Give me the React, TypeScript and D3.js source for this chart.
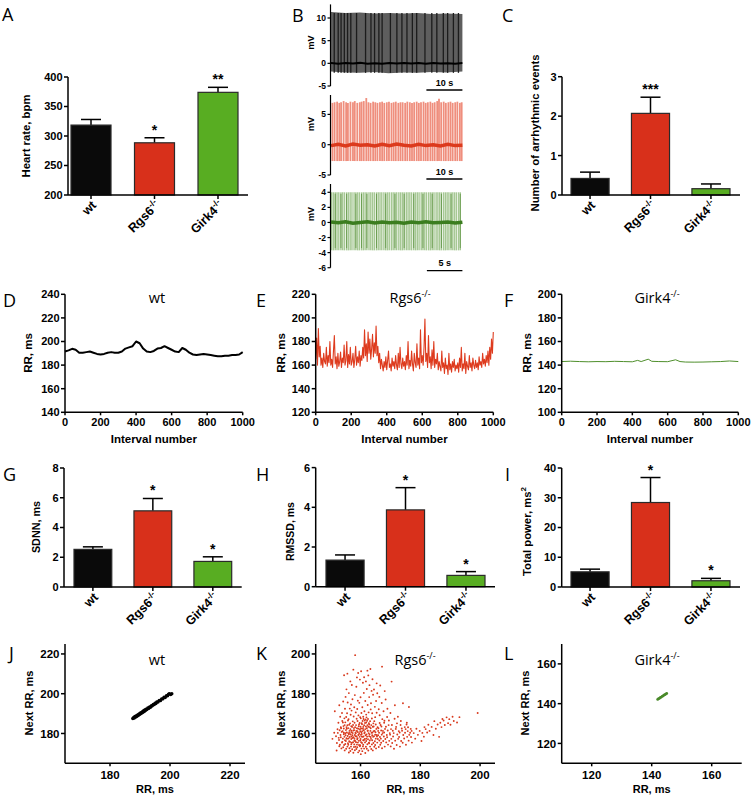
import React from 'react';
import * as d3 from 'd3';

const SANS = '"Liberation Sans", Arial, Helvetica, sans-serif';
const LETTER = '"Open Sans", "Liberation Sans", sans-serif';

// ---------------- data ----------------
const groups = ['wt', 'Rgs6', 'Girk4'];
const groupSup = ['', '-/-', '-/-'];
const groupColors = ['#0a0a0a', '#d8301b', '#58ad22'];

const heartRate = [318.5, 288.5, 374];
const heartRateSem = [9.5, 8.5, 8.5];
const heartRateStars = ['', '*', '**'];
const heartRateTicks = [200, 250, 300, 350, 400];

const arrhythmicEvents = [0.42, 2.07, 0.16];
const arrhythmicSem = [0.16, 0.41, 0.12];
const arrhythmicStars = ['', '***', ''];
const arrhythmicTicks = [0, 1, 2, 3];

const sdnn = [2.53, 5.12, 1.72];
const sdnnSem = [0.17, 0.83, 0.31];
const sdnnStars = ['', '*', '*'];
const sdnnTicks = [0, 2, 4, 6, 8];

const rmssd = [1.34, 3.87, 0.57];
const rmssdSem = [0.26, 1.12, 0.19];
const rmssdStars = ['', '*', '*'];
const rmssdTicks = [0, 2, 4, 6];

const totalPower = [5.1, 28.4, 2.1];
const totalPowerSem = [0.9, 8.4, 0.8];
const totalPowerStars = ['', '*', '*'];
const totalPowerTicks = [0, 10, 20, 30, 40];

const intervalTicks = [0, 200, 400, 600, 800, 1000];

// RR tachograms (wt sampled every 20 intervals, Rgs6 every 5, Girk4 irregular)
const wtRR = [191.5, 192.5, 193.8, 193, 190.5, 190.5, 191, 191.5, 190.5, 189.5, 189, 189.5, 190.5, 191, 190.5, 190.5,
  191.5, 194, 195, 196, 200, 198.5, 194, 191.5, 191, 192, 194, 194.5, 196, 194.5, 193, 191.5, 191, 194.5, 193, 190.5,
  189, 188.5, 189, 189.5, 189, 188.5, 188, 187.5, 187.5, 188, 188, 188.5, 188.5, 189, 191];
const wtRRStep = 20;

const rgsRR = [165, 183, 160, 191, 167, 176,
  160, 166, 158, 170, 163, 161, 175, 159, 168, 162, 180, 160, 165, 158, 172,
  185, 161, 167, 157, 170, 159, 163, 171, 158, 166, 162, 177, 160, 164, 180, 158, 169, 161, 175, 160,
  163, 170, 158, 165, 176, 160, 167, 162, 172, 159, 168, 164,
  175, 166, 190, 168, 178, 163, 188, 170, 182, 165, 174, 186, 167, 179, 170, 193, 168, 176,
  162, 170, 157, 165, 160, 155, 163, 158, 167, 156,
  164, 172, 158, 161, 155, 166, 159, 163, 157, 168, 160, 156, 170, 158, 175, 161, 157, 166, 159, 163,
  156, 168, 160, 180, 157, 164, 159, 172, 161, 155, 170, 162, 158, 178, 160, 166, 157, 190, 162, 168,
  160, 175, 199, 163, 170, 158, 185, 162, 167, 157, 173, 160, 180, 158, 165, 161, 170, 156, 163, 159,
  155, 172, 158, 162, 153, 166, 157, 160, 152, 170, 156, 161, 154, 163, 158, 165, 155, 160, 157, 162,
  154, 166, 158, 175, 155, 161, 157, 170, 153, 163, 159, 156, 168, 158, 162, 155, 166, 160, 157, 164,
  158, 162, 156, 167, 160, 163, 158, 170, 161, 165, 159, 168, 162, 172, 160, 175, 165, 182, 170, 188];
const rgsRRStep = 5;

const girkIntervals = [0, 50, 100, 150, 200, 250, 300, 350, 400, 430, 450, 490, 510, 550, 600, 645, 670, 700, 750, 800, 850, 900, 950, 1000];
const girkRR = [143, 143.3, 143, 142.8, 143, 142.9, 143.2, 143, 142.8, 144, 143, 145, 143.2, 143, 142.9, 144.5, 143, 142.6, 142.5, 142.6, 142.8, 143, 143.5, 143];

// Poincaré plots: [RR, next RR]
const wtPoincare: [number, number][] = [[187.6, 187.5], [187.9, 188.1], [188.1, 187.8], [188.3, 188.5], [188.6, 188.3], [188.8, 188.9],
  [189, 188.7], [189.2, 189.3], [189.4, 189.1], [189.6, 189.7], [189.8, 189.5], [190, 190.2], [190.2, 189.9], [190.4, 190.5],
  [190.6, 190.3], [190.8, 191], [191, 190.7], [191.2, 191.4], [191.4, 191.1], [191.6, 191.8], [191.8, 191.5], [192, 192.2],
  [192.3, 192], [192.6, 192.8], [192.9, 192.6], [193.2, 193.4], [193.5, 193.2], [193.8, 194], [194.1, 193.9], [194.4, 194.6],
  [194.7, 194.5], [195, 195.2], [195.3, 195.1], [195.6, 195.8], [196, 195.8], [196.4, 196.6], [196.8, 196.5], [197.2, 197.4],
  [197.6, 197.4], [198, 198.2], [198.4, 198.1], [198.8, 199], [199.2, 199], [199.5, 199.8], [199.8, 200], [200.2, 199.6], [200.6, 200]];

const rgsPoincare: [number, number][] = [
  [150.6, 157.3], [151.2, 160.4], [151.4, 171.2],
  [152.1, 155.2], [151.8, 158.6], [152.3, 162.1], [152.0, 151.4],
  [152.7, 157.8], [152.4, 160.3], [152.6, 165.4], [152.9, 153.6],
  [153.1, 154.3], [152.8, 156.7], [153.3, 159.2], [153.0, 161.6], [153.4, 163.1], [153.2, 168.4], [152.9, 174.2],
  [153.6, 152.5], [153.8, 155.4], [153.4, 158.1], [153.7, 160.8], [153.5, 162.6], [153.9, 166.3],
  [154.2, 153.1], [153.9, 155.8], [154.1, 157.4], [154.4, 159.6], [154.0, 161.2], [154.3, 163.7], [154.1, 165.5], [153.8, 170.3], [154.2, 176.1], [154.4, 160.4],
  [154.7, 151.5], [154.5, 154.2], [154.8, 156.6], [154.6, 158.3], [154.9, 160.1], [154.4, 162.5], [154.7, 164.2], [154.6, 167.6], [154.8, 172.4], [154.5, 189.3],
  [155.2, 152.3], [154.9, 154.7], [155.1, 156.2], [155.3, 157.6], [155.0, 159.1], [155.4, 160.5], [155.1, 161.7], [155.3, 163.2], [154.9, 165.6], [155.2, 168.3], [155.0, 178.4], [155.3, 182.2],
  [155.6, 153.4], [155.8, 155.1], [155.5, 157.3], [155.7, 158.7], [155.9, 160.2], [155.4, 162.4], [155.6, 164.1], [155.8, 166.5], [155.5, 170.2], [155.7, 175.6], [155.6, 190.1],
  [156.1, 150.4], [156.3, 152.6], [155.9, 154.3], [156.2, 156.1], [156.0, 157.5], [156.4, 158.2], [156.1, 159.6], [156.3, 161.3], [155.9, 162.7], [156.2, 164.4], [156.0, 167.2], [156.4, 172.5], [156.1, 180.3],
  [156.6, 151.2], [156.8, 153.4], [156.5, 155.7], [156.9, 157.2], [156.7, 159.5], [156.4, 160.3], [156.6, 162.2], [156.9, 163.6], [156.5, 165.1], [156.7, 169.4], [156.8, 174.6], [156.6, 186.2],
  [157.2, 152.1], [156.9, 154.6], [157.1, 155.3], [157.4, 157.7], [157.0, 158.4], [157.3, 159.1], [157.1, 160.6], [156.9, 161.4], [157.2, 163.3], [157.4, 166.1], [157.0, 171.5], [157.3, 177.2], [157.1, 184.4],
  [157.6, 150.3], [157.8, 153.2], [157.5, 155.6], [157.9, 156.4], [157.7, 158.1], [157.4, 160.2], [157.6, 161.5], [157.8, 162.7], [157.5, 164.3], [157.7, 168.5], [157.9, 173.2], [157.6, 192.1],
  [158.1, 151.6], [158.3, 153.3], [157.9, 154.5], [158.2, 156.2], [158.0, 157.3], [158.4, 158.6], [158.1, 159.2], [158.3, 160.4], [157.9, 161.7], [158.2, 163.1], [158.0, 165.4], [158.4, 170.6], [158.1, 179.3], [158.2, 199.4],
  [158.6, 152.2], [158.8, 154.4], [158.5, 155.6], [158.9, 157.1], [158.7, 158.5], [158.4, 160.1], [158.6, 161.3], [158.8, 162.6], [158.5, 164.2], [158.7, 167.4], [158.9, 172.3], [158.6, 183.5], [158.8, 188.2],
  [159.2, 150.5], [158.9, 153.1], [159.1, 155.4], [159.4, 156.3], [159.0, 157.6], [159.3, 159.2], [159.1, 160.7], [158.9, 161.2], [159.2, 162.4], [159.4, 163.6], [159.0, 166.3], [159.3, 169.1], [159.1, 176.5], [159.2, 190.4],
  [159.6, 151.3], [159.8, 153.6], [159.5, 154.2], [159.9, 156.5], [159.7, 158.3], [159.4, 159.5], [159.6, 160.2], [159.8, 162.1], [159.5, 164.5], [159.7, 165.3], [159.9, 168.2], [159.6, 175.4], [159.8, 187.1],
  [160.1, 149.6], [160.3, 152.4], [159.9, 154.1], [160.2, 155.6], [160.0, 157.2], [160.4, 158.5], [160.1, 159.3], [160.3, 160.6], [159.9, 161.1], [160.2, 162.5], [160.0, 163.4], [160.4, 165.2], [160.1, 167.6], [160.3, 170.3], [160.0, 178.2], [160.2, 191.3],
  [160.6, 151.1], [160.8, 153.5], [160.5, 155.2], [160.9, 156.6], [160.7, 158.3], [160.4, 159.7], [160.6, 161.2], [160.8, 162.4], [160.5, 164.6], [160.7, 166.3], [160.9, 168.4], [160.6, 173.2], [160.8, 185.5],
  [161.2, 152.4], [160.9, 154.3], [161.1, 156.6], [161.4, 157.2], [161.0, 158.5], [161.3, 160.1], [161.1, 161.6], [160.9, 163.3], [161.2, 164.1], [161.4, 166.5], [161.0, 167.3], [161.3, 171.2], [161.1, 180.4], [161.2, 188.3],
  [161.6, 150.2], [161.8, 153.3], [161.5, 155.5], [161.9, 157.4], [161.7, 159.1], [161.4, 160.6], [161.6, 162.2], [161.8, 163.5], [161.5, 165.3], [161.7, 167.1], [161.9, 169.5], [161.6, 176.3], [161.8, 186.2],
  [162.1, 152.3], [162.3, 154.6], [161.9, 156.2], [162.2, 158.4], [162.0, 159.5], [162.4, 161.3], [162.1, 162.6], [162.3, 164.2], [161.9, 165.5], [162.2, 166.4], [162.0, 168.1], [162.4, 174.3], [162.1, 182.4], [162.3, 191.6],
  [162.6, 151.4], [162.8, 155.3], [162.5, 157.1], [162.9, 158.6], [162.7, 160.2], [162.4, 161.5], [162.6, 163.4], [162.8, 165.2], [162.5, 167.3], [162.7, 170.6], [162.9, 178.3], [162.6, 189.2],
  [163.2, 153.4], [162.9, 155.1], [163.1, 156.5], [163.4, 158.2], [163.0, 159.6], [163.3, 161.3], [163.1, 163.2], [162.9, 164.5], [163.2, 166.2], [163.4, 172.1], [163.0, 184.3], [163.3, 192.4],
  [163.6, 152.2], [163.8, 154.5], [163.5, 157.3], [163.9, 159.1], [163.7, 160.4], [163.4, 162.6], [163.6, 164.2], [163.8, 167.5], [163.5, 175.2], [163.7, 181.4],
  [164.1, 151.5], [164.3, 155.2], [163.9, 156.6], [164.2, 158.3], [164.0, 160.5], [164.4, 161.2], [164.1, 163.4], [164.3, 165.1], [163.9, 170.2], [164.2, 179.5], [164.0, 187.3],
  [164.6, 153.3], [164.8, 156.1], [164.5, 158.6], [164.9, 159.4], [164.7, 161.3], [164.4, 163.5], [164.6, 166.2], [164.8, 173.4], [164.5, 182.1],
  [165.2, 152.5], [164.9, 154.2], [165.1, 157.4], [165.4, 159.2], [165.0, 160.6], [165.3, 162.3], [165.1, 164.5], [164.9, 168.2], [165.2, 176.3], [165.4, 185.2],
  [165.6, 155.4], [165.8, 157.2], [165.5, 158.5], [165.9, 161.3], [165.7, 163.1], [165.4, 170.4], [165.6, 180.2],
  [166.1, 153.2], [166.3, 156.5], [165.9, 159.1], [166.2, 160.4], [166.0, 162.6], [166.4, 165.3], [166.1, 172.2], [166.3, 178.4],
  [166.6, 154.3], [166.8, 157.4], [166.5, 158.2], [166.9, 161.5], [166.7, 164.3], [166.4, 169.2], [166.6, 184.1],
  [167.2, 152.6], [166.9, 155.3], [167.1, 159.4], [167.4, 160.2], [167.0, 163.5], [167.3, 167.2], [167.1, 175.3], [167.2, 193.6],
  [167.6, 156.2], [167.8, 158.5], [167.5, 161.3], [167.9, 165.4], [167.7, 171.2],
  [168.1, 153.4], [168.3, 157.2], [167.9, 160.5], [168.2, 162.3], [168.0, 166.4], [168.4, 177.1], [168.1, 181.3],
  [168.6, 155.5], [168.8, 159.2], [168.5, 163.4], [168.9, 168.3],
  [169.2, 154.4], [168.9, 158.1], [169.1, 161.5], [169.4, 164.2], [169.0, 172.4],
  [169.6, 156.3], [169.8, 160.2], [169.5, 166.5],
  [170.1, 153.5], [170.3, 157.3], [169.9, 159.4], [170.2, 162.2], [170.0, 170.3], [170.4, 186.1],
  [170.6, 155.2], [170.8, 161.4], [170.5, 164.3],
  [171.2, 152.3], [170.9, 158.5], [171.1, 160.2], [171.4, 167.4],
  [171.6, 156.4], [171.8, 162.3], [171.5, 174.2],
  [172.1, 154.2], [172.3, 159.5], [171.9, 163.3], [172.2, 165.1],
  [172.6, 157.3], [172.8, 161.2], [172.5, 168.4],
  [173.2, 153.4], [172.9, 158.2], [173.1, 160.5], [173.4, 164.3],
  [173.6, 156.2], [173.8, 162.5], [173.5, 166.3],
  [174.1, 155.3], [174.3, 159.2], [173.9, 161.4], [174.2, 175.2],
  [174.6, 157.5], [174.8, 163.2],
  [175.2, 154.3], [174.9, 160.4], [175.1, 162.2], [175.4, 164.5],
  [175.6, 158.3], [175.8, 161.2], [175.5, 165.4],
  [176.1, 156.4], [176.3, 159.3], [175.9, 163.1], [176.2, 173.3],
  [176.6, 160.4], [176.8, 162.3],
  [177.2, 155.4], [176.9, 158.2], [177.1, 161.3],
  [178.3, 157.4], [177.8, 160.2],
  [179.2, 159.3], [178.7, 162.4],
  [180.4, 156.2], [179.8, 161.3],
  [181.2, 158.4], [180.7, 160.3], [181.4, 163.2],
  [182.3, 160.5], [181.8, 162.2],
  [183.1, 161.3], [182.7, 164.4],
  [184.4, 159.2], [183.8, 163.3],
  [185.2, 162.4], [184.7, 166.2],
  [186.3, 158.3], [185.8, 164.5],
  [187.1, 163.2], [186.7, 165.4], [187.4, 167.3],
  [188.2, 164.3], [187.8, 166.5],
  [189.3, 165.2], [188.8, 168.1],
  [190.1, 164.4], [189.7, 167.2],
  [191.2, 166.3], [190.8, 168.4],
  [192.3, 165.5], [193.1, 168.2], [199.2, 170.3]];

const girkPoincare: [number, number][] = [[142, 142.1], [142.3, 142.5], [142.6, 142.7], [142.9, 143.1], [143.2, 143.3],
  [143.5, 143.7], [143.8, 143.9], [144.1, 144.3], [144.4, 144.5], [144.7, 144.8], [145, 145.1]];

// ECG traces (panel B): times of beats in seconds
const blackEnvTimes = [0, 4, 8, 12, 16, 20, 24, 28, 32, 36.5];
const blackEnvTop = [11.3, 11.1, 11.2, 11.0, 11.1, 11.0, 11.1, 10.9, 11.0, 10.9];
const blackEnvBottom = [-1.8, -2.0, -2.1, -1.9, -2.2, -2.0, -2.1, -1.9, -2.0, -1.8];
const blackDarkBeats = [0.9, 2.0, 2.8, 3.7, 4.6, 5.5, 7.1, 9.6, 11.1, 12.1, 13.3, 14.2, 16.5, 18.3, 19.7, 21.1, 22.6, 23.8,
  26.1, 28.0, 29.4, 31.2, 32.4, 34.0, 35.4];
const blackBaseline = [0.05, -0.1, 0.08, -0.05, 0.1, -0.08, 0.03, -0.1, 0.05, -0.05, 0.1, -0.03, 0.05, -0.1, 0.08, -0.05, 0.03, -0.08, 0.05];

const redBeats = [0.4, 1.0, 1.7, 2.3, 2.8, 3.5, 4.2, 4.7, 5.4, 6.1, 6.6, 7.3, 8.0, 8.5, 9.1, 9.8, 10.4, 11.0, 11.7, 12.3,
  12.9, 13.6, 14.2, 14.8, 15.5, 16.1, 16.8, 17.4, 18.0, 18.7, 19.3, 19.9, 20.6, 21.2, 21.9, 22.5, 23.1, 23.8, 24.4, 25.0,
  25.7, 26.3, 26.9, 27.6, 28.2, 28.8, 29.5, 30.0, 30.6, 31.3, 31.9, 32.6, 33.2, 33.8, 34.5, 35.1, 35.8, 36.3];
const redBeatTop = [6.9, 7.0, 7.1, 6.9, 7.0, 7.2, 7.0, 6.9, 7.1, 7.0, 7.2, 6.9, 7.0, 7.1, 7.2, 7.7, 7.0, 6.9, 7.1, 7.0,
  6.9, 7.0, 7.1, 6.9, 7.0, 7.1, 6.9, 7.0, 7.1, 6.9, 7.0, 7.0, 6.9, 7.1, 7.0, 6.9, 7.0, 7.1, 6.9, 7.0,
  7.1, 6.9, 7.0, 7.1, 6.9, 7.0, 7.2, 7.6, 7.0, 7.1, 6.9, 7.0, 7.1, 6.9, 7.0, 7.1, 6.9, 7.0];
const redBeatBottom = -2.7;
const redBaseline = [-0.15, 0.05, -0.2, 0.1, -0.1, 0.0, -0.2, 0.05, -0.15, 0.1, -0.1, -0.2, 0.05, -0.15, 0.0, -0.2, 0.05, -0.15, -0.1];

const greenBeats = [0.1, 0.35, 0.6, 0.85, 1.1, 1.4, 1.65, 1.9, 2.2, 2.45, 2.7, 2.95, 3.25, 3.5, 3.75, 4.0, 4.3, 4.55, 4.8,
  5.05, 5.35, 5.6, 5.85, 6.1, 6.4, 6.65, 6.9, 7.15, 7.45, 7.7, 7.95, 8.2, 8.5, 8.75, 9.0, 9.25, 9.55, 9.8, 10.05, 10.3,
  10.6, 10.85, 11.1, 11.35, 11.65, 11.9, 12.15, 12.4, 12.7, 12.95, 13.2, 13.45, 13.75, 14.0, 14.25, 14.5, 14.8, 15.05,
  15.3, 15.55, 15.85, 16.1, 16.35, 16.6, 16.9, 17.15, 17.4, 17.65, 17.95, 18.2];
const greenDarkBeats = [0.6, 1.4, 2.2, 3.5, 4.3, 5.05, 6.4, 7.7, 9.0, 10.3, 11.65, 12.95, 14.25, 15.55, 16.9, 18.2];
const greenBeatTop = 4.0;
const greenBeatBottom = -3.7;
const greenBaseline = [0.05, -0.05, 0.1, -0.1, 0.0, 0.08, -0.08, 0.05, -0.05, 0.03, -0.1, 0.05, -0.03, 0.08, -0.05, 0.0, 0.05, -0.08, 0.03];

// ---------------- components ----------------
type Scale = d3.ScaleLinear<number, number>;

function YAxis({ x, scale, ticks, size = 11, tickLen = 4, sw = 1.5 }: { x: number; scale: Scale; ticks: number[]; size?: number; tickLen?: number; sw?: number }) {
  const [r0, r1] = scale.range();
  return (
    <g>
      <line x1={x} x2={x} y1={Math.min(r0, r1)} y2={Math.max(r0, r1)} stroke="#000" strokeWidth={sw} />
      {ticks.map((t) => (
        <g key={t}>
          <line x1={x - tickLen} x2={x} y1={scale(t)} y2={scale(t)} stroke="#000" strokeWidth={sw} />
          <text x={x - tickLen - 1.5} y={scale(t)} dy="0.36em" textAnchor="end" fontSize={size} fontWeight="bold" fontFamily={SANS}>{t}</text>
        </g>
      ))}
    </g>
  );
}

function XAxis({ y, scale, ticks, size = 11, labelDy = 14 }: { y: number; scale: Scale; ticks: number[]; size?: number; labelDy?: number }) {
  const [r0, r1] = scale.range();
  return (
    <g>
      <line x1={r0} x2={r1} y1={y} y2={y} stroke="#000" strokeWidth={1.5} />
      {ticks.map((t) => (
        <g key={t}>
          <line x1={scale(t)} x2={scale(t)} y1={y} y2={y + 3} stroke="#000" strokeWidth={1.5} />
          <text x={scale(t)} y={y + labelDy} textAnchor="middle" fontSize={size} fontWeight="bold" fontFamily={SANS}>{t}</text>
        </g>
      ))}
    </g>
  );
}

function YLabel({ x, y, size, children }: { x: number; y: number; size: number; children: React.ReactNode }) {
  return (
    <text transform={`translate(${x},${y}) rotate(-90)`} textAnchor="middle" fontSize={size} fontWeight="bold" fontFamily={SANS}>{children}</text>
  );
}

function GroupName({ i, supSize, dy }: { i: number; supSize: number; dy: number }) {
  return (
    <>
      {groups[i]}
      {groupSup[i] ? <tspan dy={dy} fontSize={supSize}>{groupSup[i]}</tspan> : null}
    </>
  );
}

function Title({ x, y, i }: { x: number; y: number; i: number }) {
  return (
    <text x={x} y={y} textAnchor="middle" fontSize={14.5} fontFamily={LETTER}>
      <GroupName i={i} supSize={9} dy={-6} />
    </text>
  );
}

function BarPanel(p: {
  ax: number; right: number; yTop: number; yBot: number; bandL: number; bandR: number; domain: [number, number];
  ticks: number[]; values: number[]; sems: number[]; stars: string[]; label: React.ReactNode; labelX: number; labelY: number; labelSize: number;
}) {
  const y = d3.scaleLinear().domain(p.domain).range([p.yBot, p.yTop]);
  const xb = d3.scaleBand().domain(groups).range([p.bandL, p.bandR]).paddingInner(0.37).paddingOuter(0);
  const bw = xb.bandwidth();
  return (
    <g>
      {groups.map((g, i) => {
        const cx = (xb(g) as number) + bw / 2;
        const top = y(p.values[i]);
        const errTop = y(p.values[i] + p.sems[i]);
        return (
          <g key={g}>
            <line x1={cx} x2={cx} y1={top} y2={errTop} stroke="#000" strokeWidth={1.5} />
            <line x1={cx - 10} x2={cx + 10} y1={errTop} y2={errTop} stroke="#000" strokeWidth={1.5} />
            <rect x={xb(g)} y={top} width={bw} height={p.yBot - top} fill={groupColors[i]} stroke="#2a2a2a" strokeWidth={1.2} />
            {p.stars[i] ? (
              <text x={cx} y={errTop - 3} textAnchor="middle" fontSize={14} fontWeight="bold" fontFamily={SANS}>{p.stars[i]}</text>
            ) : null}
            <line x1={cx} x2={cx} y1={p.yBot} y2={p.yBot + 4} stroke="#000" strokeWidth={1.5} />
            <text transform={`translate(${cx + 6},${p.yBot + 11}) rotate(-45)`} textAnchor="end" fontSize={12.5} fontWeight="bold" fontFamily={SANS}>
              <GroupName i={i} supSize={8.5} dy={-5} />
            </text>
          </g>
        );
      })}
      <line x1={p.ax} x2={p.right} y1={p.yBot} y2={p.yBot} stroke="#000" strokeWidth={1.5} />
      <YAxis x={p.ax} scale={y} ticks={p.ticks} />
      <YLabel x={p.labelX} y={p.labelY} size={p.labelSize}>{p.label}</YLabel>
    </g>
  );
}

function LinePanel(p: {
  ax: number; right: number; yDomain: [number, number]; yTicks: number[]; step?: number; xs?: number[]; values: number[];
  color: string; width: number; labelX: number; title: number; titleX: number;
}) {
  const yTop = 294.3, yBot = 412.3;
  const x = d3.scaleLinear().domain([0, 1000]).range([p.ax, p.right]);
  const y = d3.scaleLinear().domain(p.yDomain).range([yBot, yTop]);
  const pts: [number, number][] = p.values.map((v, i) => [p.xs ? p.xs[i] : i * (p.step as number), v]);
  const path = d3.line<[number, number]>().x((d) => x(d[0])).y((d) => y(d[1]))(pts) as string;
  return (
    <g>
      <path d={path} fill="none" stroke={p.color} strokeWidth={p.width} strokeLinejoin="round" />
      <XAxis y={yBot} scale={x} ticks={intervalTicks} labelDy={13.5} />
      <YAxis x={p.ax} scale={y} ticks={p.yTicks} />
      <text x={(p.ax + p.right) / 2} y={443} textAnchor="middle" fontSize={11.5} fontWeight="bold" fontFamily={SANS}>Interval number</text>
      <YLabel x={p.labelX} y={353} size={11.5}>RR, ms</YLabel>
      <Title x={p.titleX} y={303} i={p.title} />
    </g>
  );
}

function ScatterPanel(p: {
  ax: number; right: number; domain: [number, number]; ticks: number[]; points: [number, number][]; color: string; r: number;
  labelX: number; title: number; titleX: number;
}) {
  const yTop = 644, yBot = 763.3;
  const x = d3.scaleLinear().domain(p.domain).range([p.ax, p.right]);
  const y = d3.scaleLinear().domain(p.domain).range([yBot, yTop]);
  return (
    <g>
      {p.points.map((d, i) => (
        <circle key={i} cx={x(d[0])} cy={y(d[1])} r={p.r} fill={p.color} />
      ))}
      <XAxis y={yBot} scale={x} ticks={p.ticks} labelDy={16} size={11.5} />
      <YAxis x={p.ax} scale={y} ticks={p.ticks} size={11.5} />
      <text x={(p.ax + p.right) / 2} y={793} textAnchor="middle" fontSize={11} fontWeight="bold" fontFamily={SANS}>RR, ms</text>
      <YLabel x={p.labelX} y={703} size={11}>Next RR, ms</YLabel>
      <Title x={p.titleX} y={665} i={p.title} />
    </g>
  );
}

function EcgAxis({ y, ticks, labelY }: { y: Scale; ticks: number[]; labelY: number }) {
  return (
    <g>
      <YAxis x={330.5} scale={y} ticks={ticks} size={8.5} tickLen={3} sw={1.2} />
      <text transform={`translate(314,${labelY}) rotate(-90)`} textAnchor="middle" fontSize={9} fontWeight="bold" fontFamily={SANS}>mV</text>
    </g>
  );
}

function ScaleBar({ x, yLine, seconds }: { x: Scale; yLine: number; seconds: number }) {
  const d = x.domain();
  const x1 = x(d[1] - seconds), x2 = x(d[1]);
  return (
    <g>
      <line x1={x1} x2={x2} y1={yLine} y2={yLine} stroke="#000" strokeWidth={1.3} />
      <text x={(x1 + x2) / 2} y={yLine - 4.3} textAnchor="middle" fontSize={9} fontWeight="bold" fontFamily={SANS}>{`${seconds} s`}</text>
    </g>
  );
}

function EcgPanel() {
  const x1 = d3.scaleLinear().domain([0, 36.5]).range([331, 462.4]);
  const x3 = d3.scaleLinear().domain([0, 18.5]).range([331, 462.4]);
  const y1 = d3.scaleLinear().domain([-5, 13]).range([86, 4.4]);
  const y2 = d3.scaleLinear().domain([-5, 8.2]).range([175, 95]);
  const y3 = d3.scaleLinear().domain([-6, 5.1]).range([267.7, 184]);

  const env = d3.area<number>()
    .x((t) => x1(t))
    .y0((_, i) => y1(blackEnvBottom[i]))
    .y1((_, i) => y1(blackEnvTop[i]))(blackEnvTimes) as string;
  const base = (vals: number[], xs: Scale, ys: Scale) => {
    const [d0, d1] = xs.domain();
    return d3.line<number>().x((_, i) => xs(d0 + ((d1 - d0) * i) / (vals.length - 1))).y((v) => ys(v))(vals) as string;
  };

  return (
    <g>
      {/* black trace */}
      <path d={env} fill="#5e5e5e" />
      {blackDarkBeats.map((t, i) => (
        <line key={i} x1={x1(t)} x2={x1(t)} y1={y1(-2.1)} y2={y1(11.1)} stroke="#1c1c1c" strokeWidth={1.3} />
      ))}
      <path d={base(blackBaseline, x1, y1)} fill="none" stroke="#000" strokeWidth={2} />
      <EcgAxis y={y1} ticks={[-5, 0, 5, 10]} labelY={42.5} />
      <ScaleBar x={x1} yLine={90} seconds={10} />

      {/* red trace */}
      {redBeats.map((t, i) => (
        <line key={i} x1={x1(t)} x2={x1(t)} y1={y2(redBeatBottom)} y2={y2(redBeatTop[i])} stroke="#ef8e7d" strokeWidth={1.8} />
      ))}
      <path d={base(redBaseline, x1, y2)} fill="none" stroke="#dc3a1d" strokeWidth={3.5} />
      <EcgAxis y={y2} ticks={[-5, 0, 5]} labelY={124} />
      <ScaleBar x={x1} yLine={179} seconds={10} />

      {/* green trace */}
      {greenBeats.map((t, i) => (
        <line key={i} x1={x3(t)} x2={x3(t)} y1={y3(greenBeatBottom)} y2={y3(greenBeatTop)} stroke="#a6c894" strokeWidth={1.4} />
      ))}
      {greenDarkBeats.map((t, i) => (
        <line key={i} x1={x3(t)} x2={x3(t)} y1={y3(greenBeatBottom + 0.3)} y2={y3(greenBeatTop - 0.2)} stroke="#6c9e52" strokeWidth={1} />
      ))}
      <path d={base(greenBaseline, x3, y3)} fill="none" stroke="#3b7d1f" strokeWidth={3.5} />
      <EcgAxis y={y3} ticks={[-6, -4, -2, 0, 2, 4]} labelY={214} />
      <ScaleBar x={x3} yLine={270.7} seconds={5} />
    </g>
  );
}

const panelLetters: [string, number, number][] = [
  ['A', 2, 21], ['B', 292, 22], ['C', 502, 22],
  ['D', 3, 307], ['E', 256, 307], ['F', 504, 307],
  ['G', 3, 481], ['H', 256, 481], ['I', 505, 481],
  ['J', 9, 660], ['K', 256, 660], ['L', 504, 660],
];

export default function App() {
  return (
    <div style={{ position: 'absolute', left: 0, top: 0 }}>
      <svg width={754} height={799} viewBox="0 0 754 799" style={{ display: 'block', background: '#fff' }}>
        <rect width={754} height={799} fill="#fff" />
        {panelLetters.map(([l, x, y]) => (
          <text key={l} x={x} y={y} fontSize={18} fontFamily={LETTER}>{l}</text>
        ))}

        <BarPanel ax={68} right={248} yTop={77} yBot={195} bandL={71} bandR={238} domain={[200, 400]} ticks={heartRateTicks}
          values={heartRate} sems={heartRateSem} stars={heartRateStars} label="Heart rate, bpm" labelX={30} labelY={136} labelSize={11.3} />
        <EcgPanel />
        <BarPanel ax={562} right={740} yTop={76.7} yBot={195} bandL={571} bandR={730} domain={[0, 3]} ticks={arrhythmicTicks}
          values={arrhythmicEvents} sems={arrhythmicSem} stars={arrhythmicStars} label="Number of arrhythmic events" labelX={539} labelY={133} labelSize={11.3} />

        <LinePanel ax={65} right={242.7} yDomain={[140, 240]} yTicks={[140, 160, 180, 200, 220, 240]} step={wtRRStep} values={wtRR}
          color="#000" width={2} labelX={31.5} title={0} titleX={157} />
        <LinePanel ax={315.7} right={493.3} yDomain={[120, 220]} yTicks={[120, 140, 160, 180, 200, 220]} step={rgsRRStep} values={rgsRR}
          color="#de3b1e" width={1.1} labelX={285} title={1} titleX={410} />
        <LinePanel ax={561.7} right={738.3} yDomain={[100, 200]} yTicks={[100, 120, 140, 160, 180, 200]} xs={girkIntervals} values={girkRR}
          color="#4f8f2c" width={1} labelX={530.5} title={2} titleX={657} />

        <BarPanel ax={64} right={241.7} yTop={468} yBot={587} bandL={74} bandR={231.7} domain={[0, 8]} ticks={sdnnTicks}
          values={sdnn} sems={sdnnSem} stars={sdnnStars} label="SDNN, ms" labelX={40} labelY={527} labelSize={10.8} />
        <BarPanel ax={315.7} right={495} yTop={467.6} yBot={586.7} bandL={326} bandR={485} domain={[0, 6]} ticks={rmssdTicks}
          values={rmssd} sems={rmssdSem} stars={rmssdStars} label="RMSSD, ms" labelX={293.5} labelY={531.5} labelSize={10.5} />
        <BarPanel ax={561.7} right={740} yTop={468} yBot={587} bandL={571} bandR={730} domain={[0, 40]} ticks={totalPowerTicks}
          values={totalPower} sems={totalPowerSem} stars={totalPowerStars}
          label={<>Total power, ms<tspan dy={-5} fontSize={8}>2</tspan></>} labelX={531} labelY={531.5} labelSize={11.3} />

        <ScatterPanel ax={65} right={245} domain={[165, 225]} ticks={[180, 200, 220]} points={wtPoincare} color="#000" r={1.7}
          labelX={32.5} title={0} titleX={157} />
        <ScatterPanel ax={315.7} right={495} domain={[145, 205]} ticks={[160, 180, 200]} points={rgsPoincare} color="#d8391d" r={0.95}
          labelX={285} title={1} titleX={415} />
        <ScatterPanel ax={561.7} right={741.7} domain={[110, 170]} ticks={[120, 140, 160]} points={girkPoincare} color="#4a8a2a" r={1.4}
          labelX={529} title={2} titleX={657} />
      </svg>
    </div>
  );
}
